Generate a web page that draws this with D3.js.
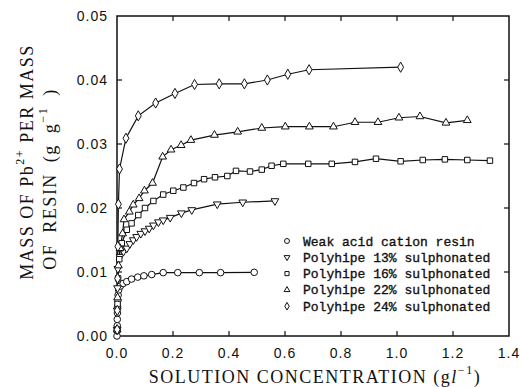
<!DOCTYPE html>
<html>
<head>
<meta charset="utf-8">
<script src="https://cdn.jsdelivr.net/npm/d3@7"></script>
<style>
  body { margin: 0; background: #fff; }
  svg { display: block; }
  .tick-label { font-family: "Liberation Sans", Arial, sans-serif; font-size: 14px; letter-spacing: 1px; fill: #111; }
  .title { font-family: "Liberation Serif", "Times New Roman", serif; font-size: 18px; letter-spacing: 1.5px; fill: #111; }
  .legend { font-family: "Liberation Mono", "DejaVu Sans Mono", monospace; font-size: 13px; fill: #111; stroke: #111; stroke-width: 0.35px; }
</style>
</head>
<body>
<div id="chart"></div>
<script>
// concentration (g/l), uptake (g/g)
const weakAcid = [
  [0.0, 0.0], [0.0005, 0.0008], [0.001, 0.0016], [0.001, 0.0026], [0.0015, 0.0036],
  [0.002, 0.0046], [0.003, 0.0055], [0.004, 0.0064], [0.006, 0.0072], [0.012, 0.0078],
  [0.022, 0.0082], [0.035, 0.0085], [0.052, 0.0089], [0.074, 0.0092], [0.096, 0.0094],
  [0.124, 0.0096], [0.165, 0.0099], [0.217, 0.0099], [0.294, 0.0099], [0.37, 0.0099], [0.49, 0.00995]
];
const poly13 = [
  [0.0005, 0.001], [0.001, 0.004], [0.002, 0.0075], [0.003, 0.0105], [0.011, 0.0124],
  [0.023, 0.0132], [0.035, 0.0137], [0.046, 0.0144], [0.058, 0.015], [0.07, 0.0155],
  [0.085, 0.016], [0.1, 0.0164], [0.115, 0.0168], [0.13, 0.0173], [0.148, 0.0178],
  [0.165, 0.0181], [0.19, 0.0185], [0.23, 0.0192], [0.267, 0.0197], [0.358, 0.0206],
  [0.449, 0.0209], [0.564, 0.0211]
];
const poly16 = [
  [0.0005, 0.001], [0.002, 0.005], [0.004, 0.009], [0.008, 0.012], [0.011, 0.0137],
  [0.017, 0.0145], [0.035, 0.0166], [0.052, 0.0176], [0.076, 0.0189], [0.1, 0.02],
  [0.13, 0.0211], [0.165, 0.0221], [0.201, 0.0227], [0.237, 0.0232], [0.275, 0.0239],
  [0.311, 0.0245], [0.35, 0.0248], [0.394, 0.025], [0.425, 0.0258], [0.475, 0.0257],
  [0.517, 0.026], [0.552, 0.0266], [0.594, 0.0269], [0.683, 0.0269], [0.767, 0.0269],
  [0.85, 0.0272], [0.925, 0.0277], [1.013, 0.0273], [1.092, 0.0275], [1.171, 0.0276],
  [1.251, 0.0275], [1.332, 0.0274]
];
const poly22 = [
  [0.0005, 0.001], [0.002, 0.006], [0.005, 0.011], [0.011, 0.0137], [0.02, 0.016],
  [0.025, 0.0182], [0.044, 0.0194], [0.058, 0.0205], [0.079, 0.0215], [0.098, 0.0227],
  [0.127, 0.0239], [0.163, 0.028], [0.193, 0.0291], [0.229, 0.0298], [0.264, 0.0306],
  [0.348, 0.0314], [0.431, 0.0319], [0.517, 0.0325], [0.601, 0.0327], [0.687, 0.0327],
  [0.773, 0.0327], [0.85, 0.0334], [0.932, 0.0334], [1.007, 0.0341], [1.082, 0.0343],
  [1.175, 0.0333], [1.251, 0.0337]
];
const poly24 = [
  [0.0005, 0.001], [0.001, 0.004], [0.002, 0.009], [0.003, 0.014], [0.005, 0.0206],
  [0.009, 0.0261], [0.032, 0.0309], [0.076, 0.0344], [0.138, 0.0364], [0.207, 0.0379],
  [0.277, 0.0393], [0.365, 0.0394], [0.455, 0.0394], [0.537, 0.04], [0.61, 0.0409],
  [0.686, 0.0416], [1.013, 0.042]
];

const seriesNames = [
  "Weak acid cation resin",
  "Polyhipe 13% sulphonated",
  "Polyhipe 16% sulphonated",
  "Polyhipe 22% sulphonated",
  "Polyhipe 24% sulphonated"
];
const xTicks = [0, 0.2, 0.4, 0.6, 0.8, 1.0, 1.2, 1.4];
const yTicks = [0, 0.01, 0.02, 0.03, 0.04, 0.05];

const width = 521, height = 387;

const svg = d3.select("#chart").append("svg")
  .attr("width", width)
  .attr("height", height);

const x = d3.scaleLinear().domain([0, 1.4]).range([117, 509]);
const y = d3.scaleLinear().domain([0, 0.05]).range([336, 16]);

// marker shapes
const shapes = [
  { type: "circle", size: 3.3 },
  { type: "tridown", size: 26 },
  { type: "square", size: 30 },
  { type: "triangle", size: 26 },
  { type: "diamond", size: 30 }
];

function drawMarker(g, shape, scale) {
  scale = scale || 1;
  if (shape.type == "circle") {
    return g.append("circle").attr("r", shape.size * scale);
  }
  let sym = d3.symbol().size(shape.size * scale * scale);
  if (shape.type == "square") sym.type(d3.symbolSquare);
  else if (shape.type == "diamond") sym.type(d3.symbolDiamond);
  else sym.type(d3.symbolTriangle);
  let p = g.append("path").attr("d", sym());
  if (shape.type == "tridown") p.attr("transform", "rotate(180)");
  return p;
}

// frame
svg.append("rect")
  .attr("x", x(0)).attr("y", y(0.05))
  .attr("width", x(1.4) - x(0)).attr("height", y(0) - y(0.05))
  .attr("fill", "none").attr("stroke", "#111").attr("stroke-width", 1.5);

// inward ticks on all four sides
const tickLen = 5;
const axes = svg.append("g").attr("stroke", "#111").attr("stroke-width", 1.2);
xTicks.slice(1, -1).forEach(t => {
  axes.append("line").attr("x1", x(t)).attr("x2", x(t)).attr("y1", y(0)).attr("y2", y(0) - tickLen);
  axes.append("line").attr("x1", x(t)).attr("x2", x(t)).attr("y1", y(0.05)).attr("y2", y(0.05) + tickLen);
});
yTicks.slice(1, -1).forEach(t => {
  axes.append("line").attr("x1", x(0)).attr("x2", x(0) + tickLen).attr("y1", y(t)).attr("y2", y(t));
  axes.append("line").attr("x1", x(1.4)).attr("x2", x(1.4) - tickLen).attr("y1", y(t)).attr("y2", y(t));
});

// tick labels
svg.append("g").selectAll("text")
  .data(xTicks)
  .enter().append("text")
  .attr("class", "tick-label")
  .attr("x", d => x(d))
  .attr("y", y(0) + 22)
  .attr("text-anchor", "middle")
  .text(d => d3.format(".1f")(d));

svg.append("g").selectAll("text")
  .data(yTicks)
  .enter().append("text")
  .attr("class", "tick-label")
  .attr("x", x(0) - 9)
  .attr("y", d => y(d) + 5)
  .attr("text-anchor", "end")
  .text(d => d3.format(".2f")(d));

// axis titles
const xt = svg.append("text")
  .attr("class", "title")
  .attr("x", 315).attr("y", 383)
  .attr("text-anchor", "middle");
xt.append("tspan").text("SOLUTION CONCENTRATION (g");
xt.append("tspan").attr("font-style", "italic").text("l");
xt.append("tspan").attr("dy", -9).attr("font-size", 12).text("\u22121");
xt.append("tspan").attr("dy", 9).text(")");

const yt1 = svg.append("text")
  .attr("class", "title")
  .attr("transform", "translate(33,162) rotate(-90)")
  .attr("text-anchor", "middle");
yt1.append("tspan").text("MASS OF Pb");
yt1.append("tspan").attr("dy", -9).attr("font-size", 12).text("2+");
yt1.append("tspan").attr("dy", 9).text(" PER MASS");

const yt2 = svg.append("text")
  .attr("class", "title")
  .attr("transform", "translate(56,179) rotate(-90)")
  .attr("text-anchor", "middle")
  .attr("word-spacing", 5);
yt2.append("tspan").text("OF RESIN (g g");
yt2.append("tspan").attr("dy", -9).attr("font-size", 12).text("\u22121");
yt2.append("tspan").attr("dy", 9).text(" )");

// series
const allSeries = [weakAcid, poly13, poly16, poly22, poly24];
const line = d3.line().x(d => x(d[0])).y(d => y(d[1]));

allSeries.forEach((data, i) => {
  svg.append("path")
    .datum(data)
    .attr("d", line)
    .attr("fill", "none")
    .attr("stroke", "#111")
    .attr("stroke-width", 1.2);
});

allSeries.forEach((data, i) => {
  let g = svg.append("g");
  data.forEach(d => {
    let m = g.append("g").attr("transform", "translate(" + x(d[0]) + "," + y(d[1]) + ")");
    drawMarker(m, shapes[i])
      .attr("fill", "#fff")
      .attr("stroke", "#111")
      .attr("stroke-width", 1);
  });
});

// legend
const legend = svg.append("g");
seriesNames.forEach((name, i) => {
  let ly = 241 + i * 16.3;
  let m = legend.append("g").attr("transform", "translate(287," + ly + ")");
  drawMarker(m, shapes[i], 0.75)
    .attr("fill", "#fff")
    .attr("stroke", "#111")
    .attr("stroke-width", 1);
  legend.append("text")
    .attr("class", "legend")
    .attr("x", 303)
    .attr("y", ly + 4.5)
    .text(name);
});
</script>
</body>
</html>
